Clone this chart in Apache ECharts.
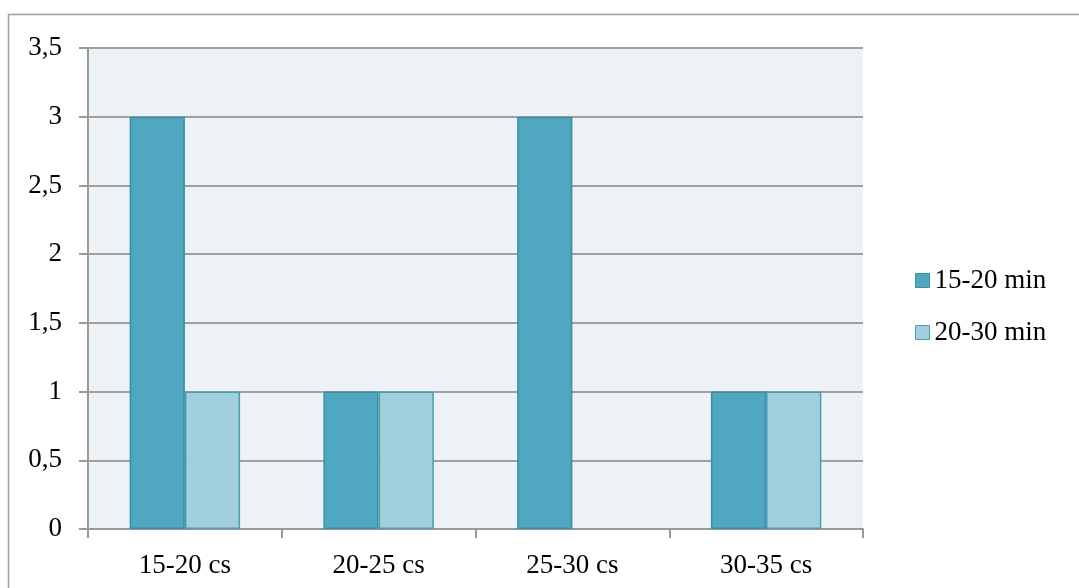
<!DOCTYPE html>
<html><head><meta charset="utf-8">
<script src="https://cdn.jsdelivr.net/npm/echarts@6/dist/echarts.min.js"></script>
<style>html,body{margin:0;padding:0;background:#fff}#c{width:1079px;height:588px}</style>
</head><body><div id="c"></div>
<script>
const categories = ['15-20 cs','20-25 cs','25-30 cs','30-35 cs'];
const seriesNames = ['15-20 min','20-30 min'];
const values1 = [3,1,3,1];
const values2 = [1,1,0,1];
const yTicks = {min:0,max:3.5,interval:0.5};
const font = 'Liberation Serif';
const fs = 27;
const noZero = a => a.map(v => v === 0 ? '-' : v);
const chart = echarts.init(document.getElementById('c'));
chart.setOption({
  animation:false,
  textStyle:{fontFamily:font},
  graphic:[{type:'rect',shape:{x:8.5,y:14.5,width:1080,height:600},style:{fill:'none',stroke:'#a0a0a0',lineWidth:1.5},silent:true,z:-10}],
  grid:{left:88,right:216,top:48,bottom:59,show:true,backgroundColor:'#edf2f6',borderWidth:0},
  legend:{orient:'vertical',left:910,top:262,itemWidth:14,itemHeight:14,itemGap:25,icon:'rect',
    textStyle:{fontFamily:font,fontSize:fs,color:'#000'},itemStyle:{borderWidth:1}},
  xAxis:{type:'category',data:categories,
    axisLine:{lineStyle:{color:'#999',width:2}},
    axisTick:{show:true,length:9,lineStyle:{color:'#999',width:2},alignWithLabel:false},
    axisLabel:{fontFamily:font,fontSize:fs,color:'#000',margin:23}},
  yAxis:{type:'value',min:yTicks.min,max:yTicks.max,interval:yTicks.interval,
    axisLine:{show:true,lineStyle:{color:'#999',width:2}},
    axisTick:{show:true,length:9,lineStyle:{color:'#999',width:2}},
    splitLine:{lineStyle:{color:'#a0a0a0',width:2}},
    axisLabel:{fontFamily:font,fontSize:fs,color:'#000',margin:26,formatter:v=>String(v).replace('.',',')}},
  series:[
    {name:seriesNames[0],type:'bar',data:noZero(values1),barGap:'0%',barCategoryGap:'43%',
      itemStyle:{color:'#4fa8bf',borderColor:'#3a8ea5',borderWidth:1.5}},
    {name:seriesNames[1],type:'bar',data:noZero(values2),barGap:'0%',barCategoryGap:'43%',
      itemStyle:{color:'#a2cfde',borderColor:'#4a9db3',borderWidth:1.5}}
  ]
});
</script></body></html>
